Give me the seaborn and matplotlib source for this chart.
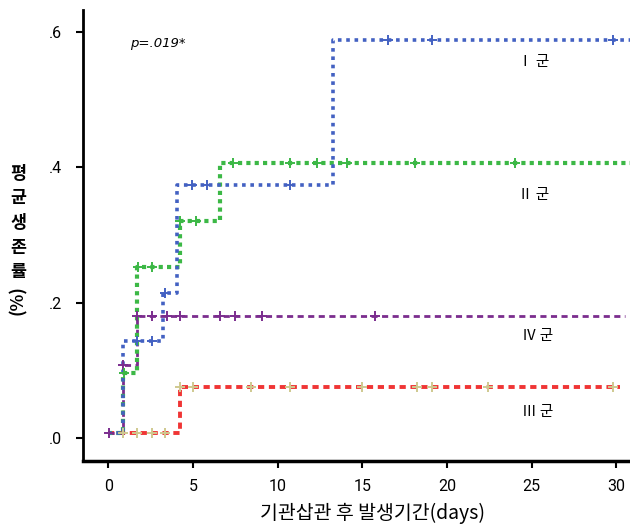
import matplotlib
matplotlib.use("Agg")
import matplotlib.pyplot as plt
import seaborn as sns
import pandas as pd

sns.set_style("ticks")
plt.rcParams['font.family'] = ['Noto Sans CJK KR', 'DejaVu Sans']
plt.rcParams['text.color'] = 'black'
plt.rcParams['xtick.color'] = 'black'
plt.rcParams['ytick.color'] = 'black'
plt.rcParams['axes.edgecolor'] = 'black'

# step curves: time of each step and the level reached after it
g1_t = [0, 0.86, 3.22, 4.05, 13.27, 30.8]
g1_y = [0.007, 0.143, 0.214, 0.374, 0.588, 0.588]
g2_t = [0, 0.86, 1.68, 4.2, 6.59, 30.8]
g2_y = [0.007, 0.096, 0.253, 0.321, 0.406, 0.406]
g3_t = [0, 4.25, 30.2]
g3_y = [0.007, 0.075, 0.075]
g4_t = [0, 0.86, 1.68, 30.5]
g4_y = [0.007, 0.108, 0.180, 0.180]

# censored cases
c1_t = [1.7, 2.55, 3.35, 4.93, 5.82, 10.7, 16.5, 19.1, 29.8]
c1_y = [0.143, 0.143, 0.214, 0.374, 0.374, 0.374, 0.588, 0.588, 0.588]
c2_t = [0.9, 1.75, 2.57, 4.23, 5.2, 7.36, 10.7, 12.3, 14.1, 18.1, 24.0]
c2_y = [0.096, 0.253, 0.253, 0.321, 0.321, 0.406, 0.406, 0.406, 0.406, 0.406, 0.406]
c3_t = [0.86, 1.7, 2.55, 3.35, 4.23, 5.0, 8.4, 10.7, 15.0, 18.2, 19.1, 22.4, 29.8]
c3_y = [0.007] * 4 + [0.075] * 9
c4_t = [0.03, 0.85, 1.7, 2.55, 3.45, 4.23, 6.6, 7.5, 9.1, 15.75]
c4_y = [0.007, 0.108, 0.180, 0.180, 0.180, 0.180, 0.180, 0.180, 0.180, 0.180]

ylabel_chars = ["평", "균", "생", "존", "률"]

fig = plt.figure(figsize=(6.3, 5.24), dpi=100)
ax = fig.add_axes([0.1317, 0.120, 0.8683, 0.861])

blue = "#4361c2"
green = "#3cb846"
red = "#f03535"
purple = "#7b2d8e"
tan = "#cfc98f"

curves = [
    (g3_t, g3_y, red, (0, (1.6, 1.2)), 2.8),
    (g4_t, g4_y, purple, (0, (2.2, 1.6)), 2.0),
    (g2_t, g2_y, green, (0, (1.0, 1.0)), 3.0),
    (g1_t, g1_y, blue, (0, (1.0, 1.3)), 2.6),
]
for t, y, c, ls, lw in curves:
    df = pd.DataFrame({"t": t, "y": y})
    sns.lineplot(data=df, x="t", y="y", drawstyle="steps-post", color=c,
                 linestyle=ls, linewidth=lw, ax=ax, estimator=None)

marks = [
    (c3_t, c3_y, tan),
    (c4_t, c4_y, purple),
    (c2_t, c2_y, green),
    (c1_t, c1_y, blue),
]
for t, y, c in marks:
    sns.scatterplot(x=t, y=y, marker="+", s=55, color=c, linewidth=1.4, ax=ax, zorder=5)

ax.set_xlim(-1.5, 30.8)
ax.set_ylim(-0.034, 0.632)
ax.set_xticks([0, 5, 10, 15, 20, 25, 30])
ax.set_yticks([0, 0.2, 0.4, 0.6])
ax.set_yticklabels([".0", ".2", ".4", ".6"])
ax.tick_params(axis="both", length=5, width=1.5, labelsize=11.5)
for lab in ax.get_xticklabels() + ax.get_yticklabels():
    lab.set_fontfamily(['Liberation Sans Narrow', 'Roboto', 'DejaVu Sans'])
ax.tick_params(axis="y", pad=10)
ax.tick_params(axis="x", pad=8)
sns.despine(ax=ax)
ax.spines['left'].set_linewidth(2)
ax.spines['bottom'].set_linewidth(2.5)
ax.set_xlabel("")
ax.set_ylabel("")

ax.text(1.27, 0.578, "p=.019*", style="italic", fontsize=9.5, family=['DejaVu Sans'])
ax.text(24.2, 0.555, "Ⅰ 군", fontsize=10.5, va="center")
ax.text(24.2, 0.359, "Ⅱ 군", fontsize=10.5, va="center")
ax.text(24.4, 0.151, "Ⅳ 군", fontsize=10.5, va="center")
ax.text(24.4, 0.038, "Ⅲ 군", fontsize=10.5, va="center")

fig.text(372 / 630, 1 - 513 / 524, "기관삽관 후 발생기간(days)", ha="center", va="center",
         fontsize=14)
for i, ch in enumerate(ylabel_chars):
    fig.text(18 / 630, 1 - (174 + 24.5 * i) / 524, ch, ha="center", va="center",
             fontsize=12.5, fontweight="bold", rotation=0)
fig.text(18 / 630, 1 - 300 / 524, "(%)", ha="center", va="center", rotation=90,
         fontsize=12.5, fontweight="bold")

fig.savefig("out.png", dpi=100)
